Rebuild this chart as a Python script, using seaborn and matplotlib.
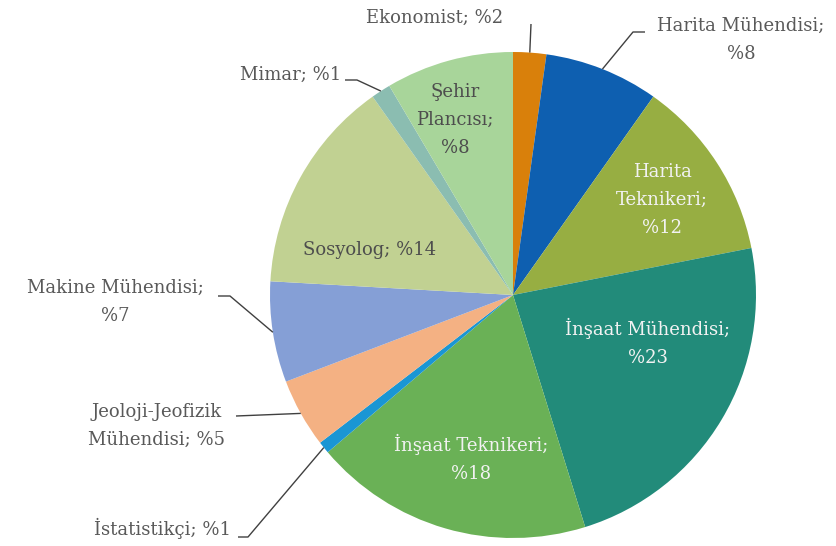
import numpy as np
import matplotlib
matplotlib.use("Agg")
import matplotlib.pyplot as plt
import seaborn as sns

# ---- data ----
categories = ["Ekonomist", "Harita Mühendisi", "Harita Teknikeri", "İnşaat Mühendisi",
              "İnşaat Teknikeri", "İstatistikçi", "Jeoloji-Jeofizik Mühendisi",
              "Makine Mühendisi", "Sosyolog", "Mimar", "Şehir Plancısı"]
shares = [2.2, 7.6, 12.1, 23.3, 18.6, 0.8, 4.6, 6.7, 14.3, 1.3, 8.5]
label_texts = ["Ekonomist; %2", "Harita Mühendisi;\n%8", "Harita\nTeknikeri;\n%12",
               "İnşaat Mühendisi;\n%23", "İnşaat Teknikeri;\n%18", "İstatistikçi; %1",
               "Jeoloji-Jeofizik\nMühendisi; %5", "Makine Mühendisi;\n%7",
               "Sosyolog; %14", "Mimar; %1", "Şehir\nPlancısı;\n%8"]
colors = ["#D9800B", "#0E5FB0", "#97AE42", "#228B7A", "#6AB156", "#1A96D4",
          "#F4B183", "#859FD6", "#C1D192", "#8BBDB1", "#A8D59A"]

sns.set_theme(style="white")
plt.rcParams['font.family'] = ['DejaVu Serif', 'DejaVu Sans']

W, H = 836, 546
fig = plt.figure(figsize=(W / 100, H / 100), dpi=100)
ax = fig.add_axes([0, 0, 1, 1])

cx, cy, R = 513, 295, 243  # pixel center/radius


def px(x, y):
    return ((x - cx) / R, (cy - y) / R)


wedges, _ = ax.pie(shares, colors=sns.color_palette(colors), startangle=90,
                   counterclock=False, radius=1.0, center=(0, 0),
                   wedgeprops=dict(linewidth=0))
ax.set_xlim(-cx / R, (W - cx) / R)
ax.set_ylim(-(H - cy) / R, cy / R)
ax.set_aspect("auto")
ax.axis("off")

gray = "#595959"
light = "#F2F2F2"
dark = "#4D4D4D"
fs = 13
ls = 1.72

# label spec: (pixel x, pixel y, ha, color, leader elbow pixel or None, leader end pixel or None)
specs = [
    (435, 18, "center", gray, None, (531, 24)),
    (741, 40, "center", gray, (633, 32), (645, 32)),
    (662, 200, "center", light, None, None),
    (648, 342, "center", light, None, None),
    (471, 458, "center", light, None, None),
    (231, 528, "right", gray, (248, 537), (238, 537)),
    (157, 426, "center", gray, None, (236, 416)),
    (115, 302, "center", gray, (230, 296), (218, 296)),
    (370, 250, "center", dark, None, None),
    (341, 75, "right", gray, (357, 80), (345, 80)),
    (455, 120, "center", dark, None, None),
]

cum = np.cumsum([0] + shares)
total = cum[-1]
for i, (x, y, ha, col, elbow, end) in enumerate(specs):
    tx, ty = px(x, y)
    ax.text(tx, ty, label_texts[i], ha=ha, va="center", color=col,
            fontsize=fs, linespacing=ls, multialignment="center")
    if end is not None:
        mid = (cum[i] + cum[i + 1]) / 2 / total * 2 * np.pi
        ex, ey = np.sin(mid), np.cos(mid)
        pts = [(ex, ey)]
        if elbow is not None:
            pts.append(px(*elbow))
        pts.append(px(*end))
        xs, ys = zip(*pts)
        ax.plot(xs, ys, color="#404040", lw=1.0, solid_capstyle="butt")

fig.savefig("out.png", dpi=100, facecolor="white")
